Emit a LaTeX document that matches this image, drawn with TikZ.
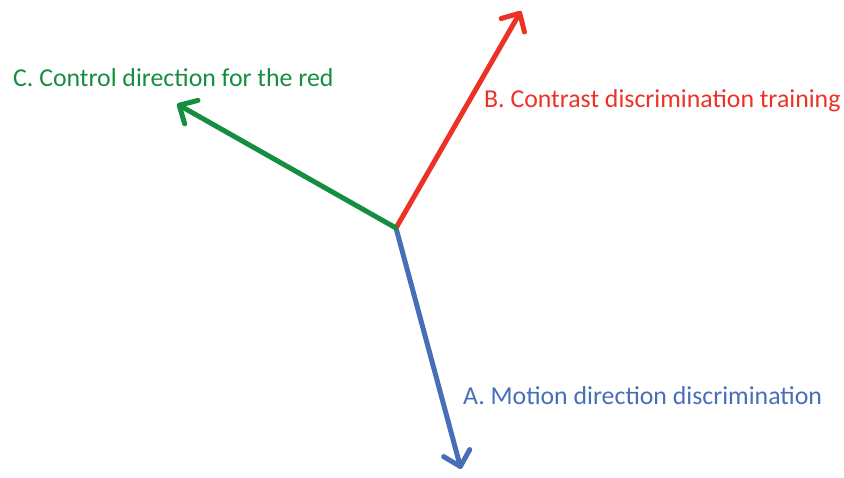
\documentclass[tikz,border=0pt]{standalone}
\usepackage{fontspec}
\setmainfont{Carlito}
\usetikzlibrary{arrows.meta}
\definecolor{redvec}{RGB}{236,50,38}
\definecolor{greenvec}{RGB}{22,142,64}
\definecolor{bluevec}{RGB}{72,110,184}

\begin{document}
\begin{tikzpicture}[x=1pt,y=-1pt,>={Straight Barb[length=14pt,width=27pt,line cap=round,line join=round]},
  vec/.style={line width=5pt,->,line cap=round},
  lab/.style={font=\fontsize{25.8}{30}\selectfont,inner sep=0pt,anchor=west}]
\useasboundingbox (0,0) rectangle (844,477);
\coordinate (o) at (396,228);
\coordinate (a) at (461,469);
\coordinate (b) at (521,11);
\coordinate (c) at (177,104);
\draw[vec,bluevec] (o)--(a);
\draw[vec,redvec] (o)--(b);
\draw[vec,greenvec] (o)--(c);
\node[lab,text=bluevec] (la) at (463,396) {A. Motion direction discrimination};
\node[lab,text=redvec] (lb) at (484,101) {B. Contrast discrimination training};
\node[lab,text=greenvec] (lc) at (13,78) {C. Control direction for the red};
\end{tikzpicture}
\end{document}
